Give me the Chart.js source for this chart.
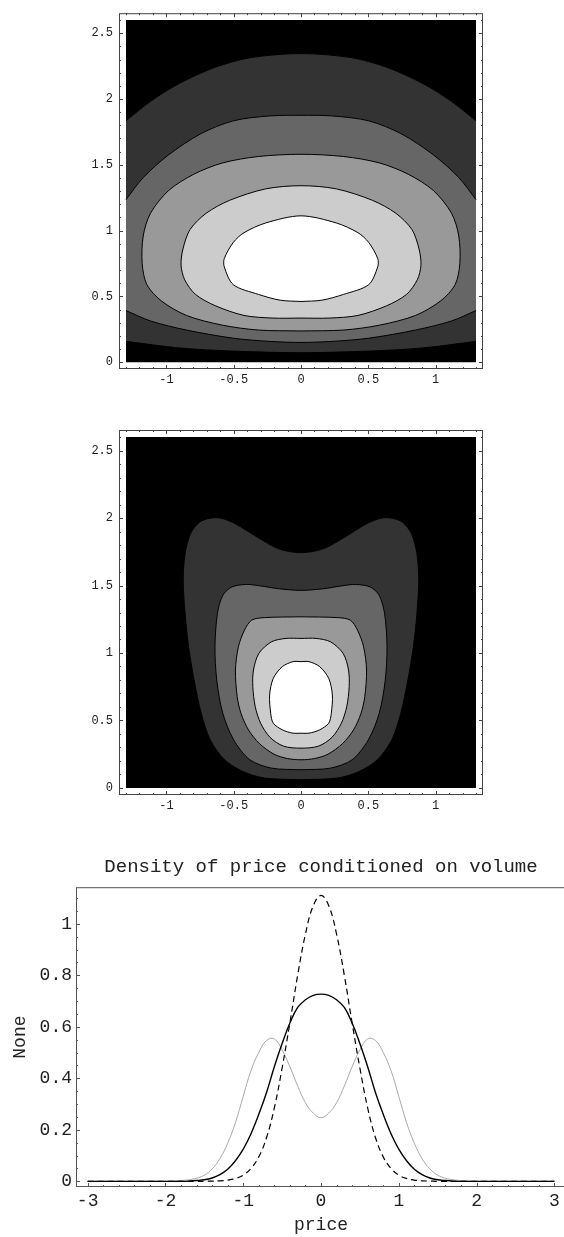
<!DOCTYPE html>
<html>
<head>
<meta charset="utf-8">
<script src="https://cdn.jsdelivr.net/npm/chart.js@4.4.1/dist/chart.umd.min.js"></script>
<style>
  html, body { margin: 0; padding: 0; background: #fff; }
  body { position: relative; width: 564px; height: 1237px; overflow: hidden; }
  canvas { position: absolute; left: 0; }
</style>
</head>
<body>
<canvas id="topPlot" width="564" height="400" style="top:0"></canvas>
<canvas id="midPlot" width="564" height="425" style="top:400px"></canvas>
<canvas id="densityPlot" width="570" height="417" style="top:820px"></canvas>
<script>
var MONO = "'Courier New', 'Liberation Mono', monospace";

// tick marks and labels
var contourXTicks = [-1, -0.5, 0, 0.5, 1];
var contourXLabels = ['-1', '-0.5', '0', '0.5', '1'];
var contourYTicks = [0, 0.5, 1, 1.5, 2, 2.5];
var contourYLabels = ['0', '0.5', '1', '1.5', '2', '2.5'];
var priceTicks = [-3, -2, -1, 0, 1, 2, 3];
var priceLabels = ['-3', '-2', '-1', '0', '1', '2', '3'];
var densityTicks = [0, 0.2, 0.4, 0.6, 0.8, 1];
var densityLabels = ['0', '0.2', '0.4', '0.6', '0.8', '1'];

// contour shades, outermost band first
var shades = ['#333333', '#666666', '#999999', '#cccccc', '#ffffff'];

// plotted region of the joint density (price, volume)
var plotBox = [[-1.3, 0], [1.3, 0], [1.3, 2.6], [-1.3, 2.6], [-1.3, 0]];

// joint density, first model. The two outer levels run off the sides,
// so they are kept as an upper and a lower contour across the region.
var topBand1Upper = [
  [-1.3, 1.834], [-1.118, 1.982], [-0.904, 2.118], [-0.637, 2.241], [-0.369, 2.315], [0, 2.345],
  [0.369, 2.315], [0.637, 2.241], [0.904, 2.118], [1.118, 1.982], [1.3, 1.834]
];
var topBand1Lower = [
  [-1.3, 0.158], [-0.904, 0.108], [-0.503, 0.084], [0, 0.072], [0.503, 0.084], [0.904, 0.108], [1.3, 0.158]
];
var topBand2Upper = [
  [-1.3, 1.235], [-1.172, 1.403], [-0.984, 1.575], [-0.744, 1.736], [-0.503, 1.834], [-0.235, 1.871], [0, 1.876],
  [0.235, 1.871], [0.503, 1.834], [0.744, 1.736], [0.984, 1.575], [1.172, 1.403], [1.3, 1.235]
];
var topBand2Lower = [
  [-1.3, 0.392], [-1.118, 0.313], [-0.851, 0.244], [-0.503, 0.182], [-0.235, 0.158], [0, 0.150],
  [0.235, 0.158], [0.503, 0.182], [0.851, 0.244], [1.118, 0.313], [1.3, 0.392]
];
// closed levels, each starting from its lowest point
var topBand3 = [
  [0, 0.237], [0.316, 0.244], [0.583, 0.281], [0.851, 0.355], [1.038, 0.466], [1.145, 0.589], [1.180, 0.750],
  [1.172, 0.959], [1.118, 1.132], [0.984, 1.304], [0.797, 1.428], [0.583, 1.514], [0.316, 1.563], [0, 1.580],
  [-0.316, 1.563], [-0.583, 1.514], [-0.797, 1.428], [-0.984, 1.304], [-1.118, 1.132], [-1.172, 0.959],
  [-1.180, 0.750], [-1.145, 0.589], [-1.038, 0.466], [-0.851, 0.355], [-0.583, 0.281], [-0.316, 0.244], [0, 0.237]
];
var topBand4 = [
  [0, 0.335], [0.209, 0.335], [0.423, 0.355], [0.637, 0.429], [0.784, 0.515], [0.864, 0.626], [0.891, 0.737],
  [0.877, 0.860], [0.824, 1.008], [0.704, 1.132], [0.530, 1.230], [0.262, 1.317], [0, 1.341],
  [-0.262, 1.317], [-0.530, 1.230], [-0.704, 1.132], [-0.824, 1.008], [-0.877, 0.860], [-0.891, 0.737],
  [-0.864, 0.626], [-0.784, 0.515], [-0.637, 0.429], [-0.423, 0.355], [-0.209, 0.335], [0, 0.335]
];
var topPeak = [
  [0, 0.461], [0.155, 0.471], [0.316, 0.515], [0.503, 0.589], [0.570, 0.725], [0.570, 0.787], [0.503, 0.910],
  [0.423, 0.984], [0.262, 1.058], [0, 1.112], [-0.262, 1.058], [-0.423, 0.984], [-0.503, 0.910], [-0.570, 0.787],
  [-0.570, 0.725], [-0.503, 0.589], [-0.316, 0.515], [-0.155, 0.471], [0, 0.461]
];

// joint density, second model: closed level outlines
var midBand1 = [
  [0, 0.061], [-0.273, 0.074], [-0.433, 0.123], [-0.567, 0.209], [-0.674, 0.356], [-0.741, 0.553], [-0.794, 0.800],
  [-0.835, 1.046], [-0.861, 1.292], [-0.875, 1.538], [-0.861, 1.735], [-0.821, 1.883], [-0.754, 1.969],
  [-0.674, 1.999], [-0.594, 1.999], [-0.487, 1.957], [-0.326, 1.859], [-0.166, 1.772], [0, 1.743],
  [0.166, 1.772], [0.326, 1.859], [0.487, 1.957], [0.594, 1.999], [0.674, 1.999], [0.754, 1.969],
  [0.821, 1.883], [0.861, 1.735], [0.875, 1.538], [0.861, 1.292], [0.835, 1.046], [0.794, 0.800], [0.741, 0.553],
  [0.674, 0.356], [0.567, 0.209], [0.433, 0.123], [0.273, 0.074], [0, 0.061]
];
var midBand2 = [
  [0, 0.135], [0.219, 0.147], [0.380, 0.209], [0.500, 0.356], [0.581, 0.553], [0.626, 0.800], [0.639, 1.046],
  [0.621, 1.292], [0.581, 1.427], [0.514, 1.489], [0.407, 1.508], [0.300, 1.497], [0.166, 1.476], [0, 1.464],
  [-0.166, 1.476], [-0.300, 1.497], [-0.407, 1.508], [-0.514, 1.489], [-0.581, 1.427], [-0.621, 1.292],
  [-0.639, 1.046], [-0.626, 0.800], [-0.581, 0.553], [-0.500, 0.356], [-0.380, 0.209], [-0.219, 0.147], [0, 0.135]
];
var midBand3 = [
  [0, 1.268], [0.273, 1.262], [0.367, 1.243], [0.420, 1.169], [0.465, 1.046], [0.487, 0.874], [0.474, 0.677],
  [0.445, 0.550], [0.390, 0.430], [0.310, 0.330], [0.200, 0.250], [0.100, 0.218], [0, 0.209],
  [-0.100, 0.218], [-0.200, 0.250], [-0.310, 0.330], [-0.390, 0.430], [-0.445, 0.550], [-0.474, 0.677],
  [-0.487, 0.874], [-0.465, 1.046], [-0.420, 1.169], [-0.367, 1.243], [-0.273, 1.262], [0, 1.268]
];
var midBand4 = [
  [0, 1.108], [0.112, 1.108], [0.219, 1.083], [0.313, 0.997], [0.353, 0.874], [0.358, 0.751], [0.340, 0.603],
  [0.300, 0.480], [0.230, 0.375], [0.130, 0.310], [0, 0.295],
  [-0.130, 0.310], [-0.230, 0.375], [-0.300, 0.480], [-0.340, 0.603], [-0.358, 0.751], [-0.353, 0.874],
  [-0.313, 0.997], [-0.219, 1.083], [-0.112, 1.108], [0, 1.108]
];
var midPeak = [
  [0, 0.936], [0.059, 0.936], [0.139, 0.899], [0.206, 0.812], [0.233, 0.689], [0.225, 0.553], [0.206, 0.480],
  [0.139, 0.431], [0.059, 0.406], [0, 0.406], [-0.059, 0.406], [-0.139, 0.431], [-0.206, 0.480], [-0.225, 0.553],
  [-0.233, 0.689], [-0.206, 0.812], [-0.139, 0.899], [-0.059, 0.936], [0, 0.936]
];

// conditional densities of price
var price = [
  -3, -2.9, -2.8, -2.7, -2.6, -2.5, -2.4, -2.3, -2.2, -2.1, -2, -1.9, -1.8, -1.7, -1.6, -1.5, -1.4, -1.3, -1.2, -1.1,
  -1, -0.9, -0.8, -0.7, -0.6, -0.5, -0.4, -0.3, -0.2, -0.1, 0, 0.1, 0.2, 0.3, 0.4, 0.5, 0.6, 0.7, 0.8, 0.9,
  1, 1.1, 1.2, 1.3, 1.4, 1.5, 1.6, 1.7, 1.8, 1.9, 2, 2.1, 2.2, 2.3, 2.4, 2.5, 2.6, 2.7, 2.8, 2.9, 3
];
var densitySolid = [
  0, 0, 0, 0, 0, 0, 0, 0, 0, 0, 0, 0, 0,
  0.001, 0.003, 0.006, 0.013, 0.026, 0.047, 0.08, 0.125, 0.185, 0.26, 0.345, 0.445, 0.535, 0.615, 0.675, 0.705, 0.722,
  0.727,
  0.722, 0.705, 0.675, 0.615, 0.535, 0.445, 0.345, 0.26, 0.185, 0.125, 0.08, 0.047, 0.026, 0.013, 0.006, 0.003, 0.001,
  0, 0, 0, 0, 0, 0, 0, 0, 0, 0, 0, 0, 0
];
var densityDashed = [
  0, 0, 0, 0, 0, 0, 0, 0, 0, 0, 0, 0, 0, 0, 0, 0,
  0.001, 0.002, 0.005, 0.011, 0.024, 0.05, 0.095, 0.17, 0.285, 0.44, 0.615, 0.80, 0.96, 1.07,
  1.11,
  1.07, 0.96, 0.80, 0.615, 0.44, 0.285, 0.17, 0.095, 0.05, 0.024, 0.011, 0.005, 0.002, 0.001,
  0, 0, 0, 0, 0, 0, 0, 0, 0, 0, 0, 0, 0, 0, 0, 0
];
var densityGray = [
  0, 0, 0, 0, 0, 0, 0, 0, 0, 0, 0,
  0.001, 0.003, 0.006, 0.012, 0.024, 0.048, 0.088, 0.148, 0.228, 0.33, 0.43, 0.50, 0.547, 0.553, 0.51, 0.445, 0.37, 0.305, 0.265,
  0.247,
  0.265, 0.305, 0.37, 0.445, 0.51, 0.553, 0.547, 0.50, 0.43, 0.33, 0.228, 0.148, 0.088, 0.048, 0.024, 0.012, 0.006, 0.003, 0.001,
  0, 0, 0, 0, 0, 0, 0, 0, 0, 0, 0
];

Chart.defaults.font.family = MONO;

// frame round the plot area with inward major/minor ticks
var frameTicks = {
  id: 'frameTicks',
  afterDatasetsDraw(chart, args, opts) {
    var ctx = chart.ctx, a = chart.chartArea;
    ctx.save();
    ctx.strokeStyle = opts.color;
    ctx.lineWidth = 1;
    ctx.strokeRect(a.left + 0.5, a.top + 0.5, a.right - a.left - 1, a.bottom - a.top - 1);
    ctx.beginPath();
    function tickAt(scale, v, len) {
      var p = Math.round(scale.getPixelForValue(v)) + 0.5;
      if (scale.axis === 'x') {
        if (opts.sides.includes('bottom')) { ctx.moveTo(p, a.bottom); ctx.lineTo(p, a.bottom - len); }
        if (opts.sides.includes('top')) { ctx.moveTo(p, a.top); ctx.lineTo(p, a.top + len); }
      } else {
        if (opts.sides.includes('left')) { ctx.moveTo(a.left, p); ctx.lineTo(a.left + len, p); }
        if (opts.sides.includes('right')) { ctx.moveTo(a.right, p); ctx.lineTo(a.right - len, p); }
      }
    }
    [[chart.scales.x, opts.xMinor], [chart.scales.y, opts.yMinor]].forEach(function (pair) {
      var scale = pair[0], step = pair[1];
      var majors = scale.ticks.map(function (t) { return t.value; });
      majors.forEach(function (v) { tickAt(scale, v, opts.majorLength); });
      for (var k = Math.ceil(scale.min / step); k * step <= scale.max; k++) {
        var v = k * step;
        if (!majors.some(function (m) { return Math.abs(m - v) < step / 4; })) tickAt(scale, v, opts.minorLength);
      }
    });
    ctx.stroke();
    ctx.restore();
  }
};

function toPoints(outline) {
  return outline.map(function (p) { return { x: p[0], y: p[1] }; });
}

// a closed level is filled inside its own outline; an open one is filled
// between its lower contour and its upper contour
function levelDatasets(level, color) {
  var line = { showLine: true, borderColor: '#000', borderWidth: 1, pointRadius: 0, tension: 0.3 };
  if (level.outline) {
    return [Object.assign({ data: toPoints(level.outline), fill: 'shape', backgroundColor: color }, line)];
  }
  return [
    Object.assign({ data: toPoints(level.lower), fill: false }, line),
    Object.assign({ data: toPoints(level.upper), fill: '-1', backgroundColor: color }, line)
  ];
}

function contourChart(id, levels, padTop, axisHeight) {
  // first dataset is painted last, so the innermost level goes first
  var datasets = [];
  for (var i = levels.length - 1; i >= 0; i--) {
    datasets = datasets.concat(levelDatasets(levels[i], shades[i]));
  }
  datasets.push({
    data: toPoints(plotBox), showLine: true, fill: 'shape',
    backgroundColor: '#000', borderWidth: 0, pointRadius: 0
  });

  return new Chart(document.getElementById(id), {
    type: 'scatter',
    data: { datasets: datasets },
    options: {
      responsive: false,
      animation: false,
      events: [],
      layout: { padding: { top: padTop, right: 81, bottom: 0, left: 0 } },
      scales: {
        x: {
          type: 'linear', min: -1.352, max: 1.352,
          grid: { display: false, drawTicks: false }, border: { display: false },
          afterBuildTicks: function (s) { s.ticks = contourXTicks.map(function (v) { return { value: v }; }); },
          ticks: {
            callback: function (v, i) { return contourXLabels[i]; },
            font: { size: 12 }, color: '#222', padding: 4, maxRotation: 0, autoSkip: false
          },
          afterFit: function (s) { s.height = axisHeight; }
        },
        y: {
          type: 'linear', min: -0.052, max: 2.652,
          grid: { display: false, drawTicks: false }, border: { display: false },
          afterBuildTicks: function (s) { s.ticks = contourYTicks.map(function (v) { return { value: v }; }); },
          ticks: {
            callback: function (v, i) { return contourYLabels[i]; },
            font: { size: 12 }, color: '#222', padding: 6, autoSkip: false
          },
          afterFit: function (s) { s.width = 119; }
        }
      },
      plugins: {
        legend: { display: false },
        tooltip: { enabled: false },
        frameTicks: {
          color: '#444', majorLength: 4, minorLength: 2, xMinor: 0.1, yMinor: 0.1,
          sides: ['left', 'right', 'top', 'bottom']
        }
      }
    },
    plugins: [frameTicks]
  });
}

function densityChart() {
  var lines = [
    { data: densitySolid, borderColor: '#000', borderWidth: 1.4 },
    { data: densityDashed, borderColor: '#000', borderWidth: 1.2, borderDash: [6, 4] },
    { data: densityGray, borderColor: '#a8a8a8', borderWidth: 1 }
  ].map(function (d) {
    return Object.assign({}, d, {
      data: d.data.map(function (v, i) { return { x: price[i], y: v }; }),
      showLine: true, pointRadius: 0, fill: false, tension: 0.4
    });
  });

  return new Chart(document.getElementById('densityPlot'), {
    type: 'scatter',
    data: { datasets: lines },
    options: {
      responsive: false,
      animation: false,
      events: [],
      layout: { padding: { top: 0, right: 4, bottom: 0, left: 0 } },
      scales: {
        x: {
          type: 'linear', min: -3.15, max: 3.15,
          grid: { display: false, drawTicks: false }, border: { display: false },
          afterBuildTicks: function (s) { s.ticks = priceTicks.map(function (v) { return { value: v }; }); },
          ticks: {
            callback: function (v, i) { return priceLabels[i]; },
            font: { size: 18 }, color: '#222', padding: 3, maxRotation: 0, autoSkip: false
          },
          title: {
            display: true, text: 'price', color: '#222',
            font: { size: 18 }, padding: { top: 0, bottom: 1 }
          },
          afterFit: function (s) { s.height = 50; }
        },
        y: {
          type: 'linear', min: -0.022, max: 1.142,
          grid: { display: false, drawTicks: false }, border: { display: false },
          afterBuildTicks: function (s) { s.ticks = densityTicks.map(function (v) { return { value: v }; }); },
          ticks: {
            callback: function (v, i) { return densityLabels[i]; },
            font: { size: 18 }, color: '#222', padding: 4, autoSkip: false
          },
          title: {
            display: true, text: 'None', color: '#222',
            font: { size: 18 }, padding: { top: 9, bottom: 0 }
          },
          afterFit: function (s) { s.width = 76; }
        }
      },
      plugins: {
        legend: { display: false },
        tooltip: { enabled: false },
        title: {
          display: true, text: 'Density of price conditioned on volume',
          fullSize: false, color: '#222',
          font: { size: 19, weight: 'normal' },
          padding: { top: 36, bottom: 8.4 }
        },
        frameTicks: {
          color: '#555', majorLength: 4, minorLength: 2, xMinor: 0.2, yMinor: 0.05,
          sides: ['left', 'bottom']
        }
      }
    },
    plugins: [frameTicks]
  });
}

contourChart('topPlot', [
  { upper: topBand1Upper, lower: topBand1Lower },
  { upper: topBand2Upper, lower: topBand2Lower },
  { outline: topBand3 },
  { outline: topBand4 },
  { outline: topPeak }
], 4, 31);
contourChart('midPlot', [
  { outline: midBand1 },
  { outline: midBand2 },
  { outline: midBand3 },
  { outline: midBand4 },
  { outline: midPeak }
], 30, 30);
densityChart();
</script>
</body>
</html>
